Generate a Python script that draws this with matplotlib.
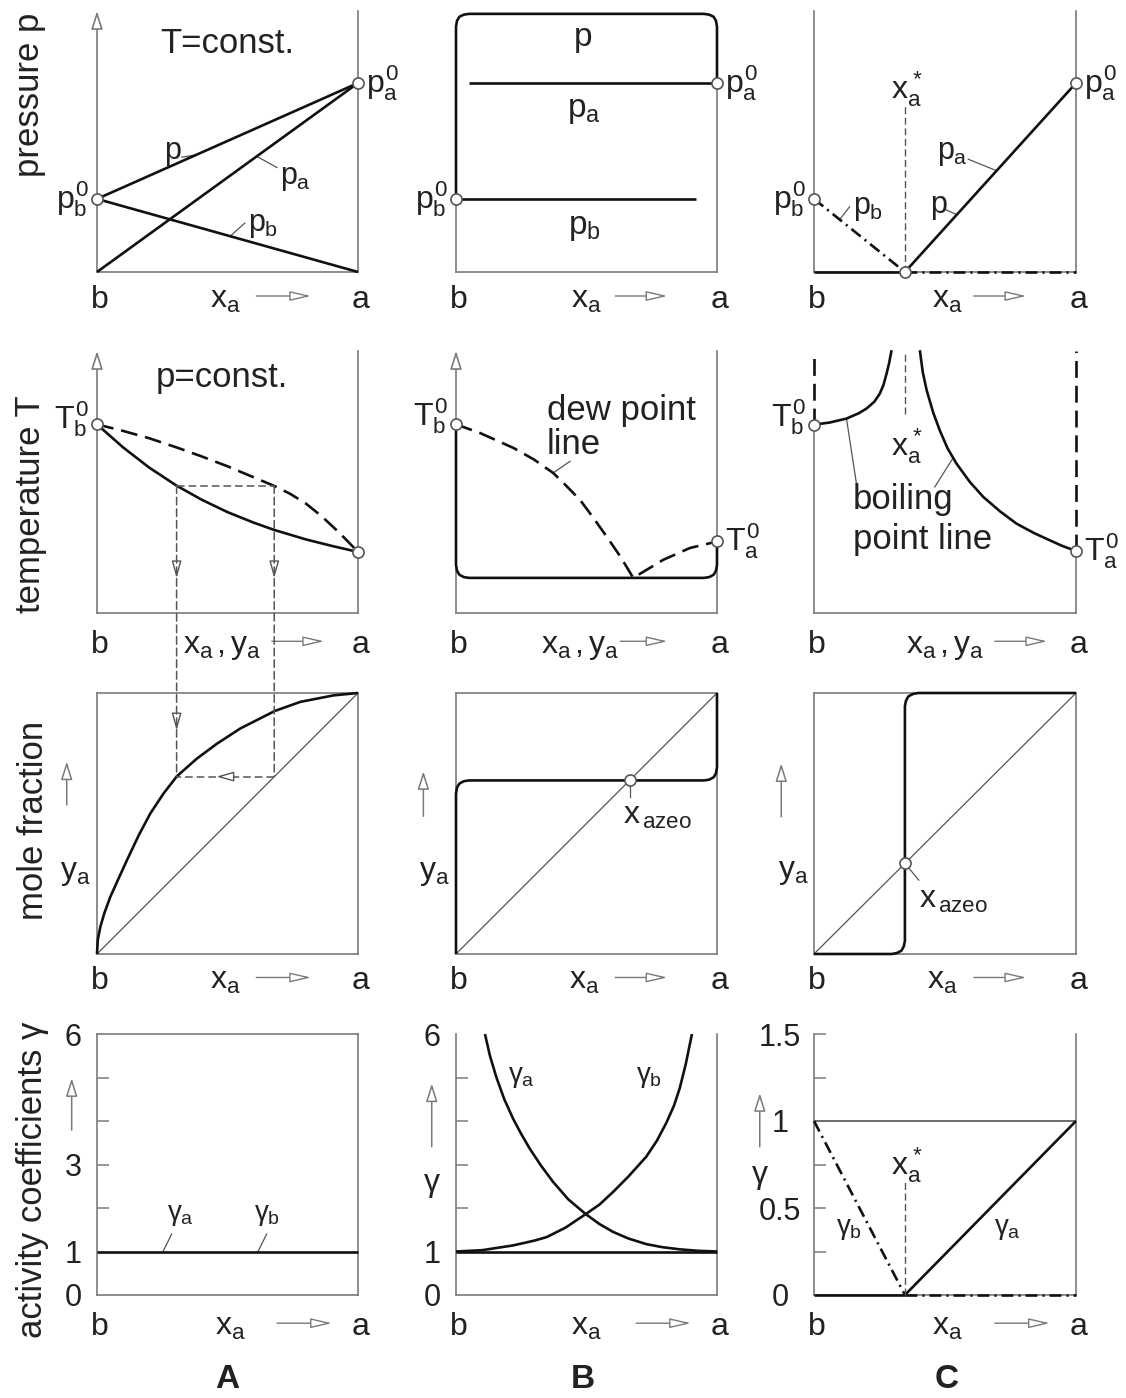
import numpy as np
import matplotlib
matplotlib.use("Agg")
import matplotlib.pyplot as plt
from matplotlib.patches import ConnectionPatch

plt.rcParams["font.family"] = ["Liberation Sans", "DejaVu Sans"]
plt.rcParams["mathtext.fontset"] = "custom"
plt.rcParams["mathtext.rm"] = "Liberation Sans"
plt.rcParams["mathtext.it"] = "Liberation Sans"
plt.rcParams["mathtext.bf"] = "Liberation Sans:bold"

# ---------------- data (x_a: b = 0 ... a = 1) ----------------
# column A: ideal mixture
pa0_ideal, pb0_ideal = 0.724, 0.28
Tb0_ideal, Ta0_ideal = 0.72, 0.233
boil_ideal_x = [0, 0.1, 0.2, 0.305, 0.4, 0.5, 0.6, 0.679, 0.8, 0.9, 1.0]
boil_ideal_y = [0.72, 0.632, 0.555, 0.486, 0.433, 0.385, 0.345, 0.317, 0.281, 0.256, 0.233]
dew_ideal_x = [0, 0.1, 0.2, 0.305, 0.4, 0.5, 0.6, 0.679, 0.74, 0.8, 0.86, 0.93, 1.0]
dew_ideal_y = [0.72, 0.695, 0.667, 0.632, 0.598, 0.56, 0.518, 0.485, 0.455, 0.418, 0.37,
               0.305, 0.233]
eq_ideal_x = [0, 0.003, 0.013, 0.028, 0.051, 0.083, 0.115, 0.16, 0.204, 0.255, 0.306,
              0.383, 0.46, 0.549, 0.681, 0.779, 0.907, 1.0]
eq_ideal_y = [0, 0.054, 0.105, 0.156, 0.219, 0.29, 0.36, 0.455, 0.538, 0.615, 0.681,
              0.749, 0.806, 0.864, 0.931, 0.966, 0.991, 1.0]
x_liquid, x_vapour = 0.305, 0.679
gamma_ideal = 1.0

# column B: positive deviation (maximum pressure azeotrope)
pa0_pos, pb0_pos = 0.724, 0.28
p_pos_x = [0, 0, 0.004, 0.013, 0.03, 0.05, 0.95, 0.97, 0.987, 0.996, 1, 1]
p_pos_y = [0.28, 0.94, 0.963, 0.978, 0.986, 0.989, 0.989, 0.986, 0.978, 0.963, 0.94, 0.724]
pa_pos_x = [0.05, 1.0]
pb_pos_x = [0.0, 0.92]
Tb0_pos, Ta0_pos = 0.72, 0.273
boil_pos_x = [0, 0, 0.004, 0.013, 0.03, 0.05, 0.95, 0.97, 0.987, 0.996, 1, 1]
boil_pos_y = [0.72, 0.184, 0.161, 0.146, 0.137, 0.134, 0.134, 0.137, 0.146, 0.161, 0.184, 0.273]
dew_pos_x = [0, 0.092, 0.22, 0.30, 0.373, 0.42, 0.475, 0.525, 0.577, 0.63, 0.679,
             0.794, 0.896, 1.0]
dew_pos_y = [0.72, 0.687, 0.63, 0.585, 0.534, 0.488, 0.432, 0.365, 0.292, 0.215, 0.134,
             0.203, 0.248, 0.273]
eq_pos_x = [0, 0, 0.004, 0.013, 0.03, 0.05, 0.95, 0.97, 0.987, 0.996, 1, 1]
eq_pos_y = [0, 0.615, 0.638, 0.653, 0.662, 0.665, 0.665, 0.668, 0.677, 0.692, 0.715, 1]
x_azeo_pos = 0.665
gam_a_pos_x = [0.111, 0.13, 0.155, 0.185, 0.219, 0.25, 0.283, 0.325, 0.372, 0.43, 0.497,
               0.55, 0.602, 0.66, 0.729, 0.79, 0.857, 0.93, 1.0]
gam_a_pos_y = [6.0, 5.5, 5.0, 4.5, 4.05, 3.7, 3.36, 2.98, 2.6, 2.2, 1.86,
               1.63, 1.45, 1.3, 1.17, 1.1, 1.05, 1.015, 1.0]
gam_b_pos_x = [0, 0.1, 0.219, 0.3, 0.347, 0.42, 0.497, 0.55, 0.602, 0.66, 0.729, 0.77,
               0.806, 0.835, 0.857, 0.88, 0.904]
gam_b_pos_y = [1.0, 1.03, 1.14, 1.25, 1.33, 1.55, 1.86, 2.08, 2.37, 2.72, 3.18, 3.55,
               3.96, 4.35, 4.75, 5.3, 6.0]

# column C: immiscible components (x_a* splits the range)
x_star = 0.347
pa0_neg, pb0_neg = 0.724, 0.28
Tb0_neg, Ta0_neg = 0.719, 0.237
boil_neg_l_x = [0, 0.06, 0.124, 0.17, 0.2, 0.23, 0.251, 0.265, 0.277, 0.287, 0.296]
boil_neg_l_y = [0.719, 0.727, 0.742, 0.762, 0.78, 0.806, 0.837, 0.87, 0.914, 0.955, 1.003]
boil_neg_r_x = [0.404, 0.415, 0.43, 0.455, 0.48, 0.51, 0.544, 0.595, 0.646, 0.71, 0.773,
                0.84, 0.901, 0.95, 1.0]
boil_neg_r_y = [1.003, 0.92, 0.85, 0.765, 0.697, 0.628, 0.570, 0.5, 0.443, 0.388, 0.341,
                0.305, 0.277, 0.255, 0.237]
eq_neg_x = [0, 0.297, 0.317, 0.334, 0.343, 0.347, 0.347, 0.351, 0.36, 0.377, 0.397, 1]
eq_neg_y = [0, 0, 0.004, 0.013, 0.03, 0.05, 0.95, 0.97, 0.987, 0.996, 1, 1]
gam_ref_neg = 1.0

# axis ticks of the activity coefficient row
gam_ticks_A, gam_minor_A = [0, 1, 3, 6], [2, 3, 4, 5]
gam_ticks_B, gam_minor_B = [0, 1, 6], [2, 3, 4, 5]
gam_ticks_C, gam_minor_C = [0, 0.5, 1, 1.5], [0.25, 0.5, 0.75, 1.25, 1.5]
gam_labels_C = ["0", "0.5", "1", "1.5"]

# ---------------- layout ----------------
W, H = 1126, 1398
COLS = [(97, 358), (456, 717), (814, 1076)]
ROWS = [(11, 272), (351, 613), (693, 954), (1034, 1295)]
BASE = [-0.137, -0.153, -0.135, -0.153]
GREY = "#7a7a7a"
LEAD = "#555555"
TXT = "#222222"
K = "#111111"
LW = 1.9
FS_AX = 23
THICK_DASH = (0, (6.4, 3.0))
THIN_DASH = (0, (5, 2.6))
DASH_DOT = (0, (4.5, 1.9, 0.8, 1.9))

fig = plt.figure(figsize=(W / 100, H / 100), dpi=100)


def panel(r, c, ylim=(0, 1), top=False):
    x0, x1 = COLS[c]
    y0, y1 = ROWS[r]
    ax = fig.add_axes([x0 / W, 1 - y1 / H, (x1 - x0) / W, (y1 - y0) / H])
    ax.set_xlim(0, 1)
    ax.set_ylim(*ylim)
    ax.set_xticks([])
    ax.set_yticks([])
    ax.patch.set_visible(False)
    for s in ax.spines.values():
        s.set_color(GREY)
        s.set_linewidth(1.2)
    ax.spines["top"].set_visible(top)
    return ax


def open_arrow(ax, start, end, coords="data", hl=1.3, hw=0.3, lw=1.0, ms=10, color=GREY):
    ax.annotate("", xy=end, xytext=start, xycoords=coords, textcoords=coords,
                annotation_clip=False,
                arrowprops=dict(arrowstyle=f"-|>,head_length={hl},head_width={hw}",
                                mutation_scale=ms, fc="white", ec=color, lw=lw,
                                shrinkA=0, shrinkB=0))


def yaxis_arrow(ax):
    ax.spines["left"].set_visible(False)
    open_arrow(ax, (0, 0), (0, 1.0), hl=1.1, hw=0.35, lw=1.2)


def xaxis_text(ax, r, label, lab_x, arr):
    yb = BASE[r]
    kw = dict(transform=ax.transAxes, va="baseline", fontsize=FS_AX, color=TXT)
    ax.text(0.012, yb, "b", ha="center", **kw)
    ax.text(1.01, yb, "a", ha="center", **kw)
    ax.text(lab_x, yb, label, ha="center", **kw)
    open_arrow(ax, (arr[0], yb + 0.045), (arr[1], yb + 0.045), "axes fraction")


def curve(ax, x, y, ls="-", lw=LW, color=K):
    ax.plot(x, y, color=color, lw=lw, ls=ls, clip_on=False, zorder=3,
            solid_capstyle="butt", dash_capstyle="butt", solid_joinstyle="round")


def dot(ax, x, y):
    ax.plot([x], [y], "o", ms=8, mfc="white", mec="#555555", mew=1.2,
            clip_on=False, zorder=6)


def leader(ax, cx, cy, at, end):
    ax.plot([at, end[0]], [np.interp(at, cx, cy), end[1]], color=LEAD, lw=0.9,
            clip_on=False, zorder=2)


def label(ax, x, y, s, fs=23, ha="center", va="center", coords=None):
    ax.text(x, y, s, fontsize=fs, ha=ha, va=va, color=TXT,
            transform=coords if coords is not None else ax.transData)


def small_up(ax, x, y0, y1):
    open_arrow(ax, (x, y0), (x, y1), "axes fraction", hl=1.1, hw=0.35, lw=1.1)


# ================= row 1: pressure =================
ax = panel(0, 0)
yaxis_arrow(ax)
curve(ax, [0, 1], [pb0_ideal, pa0_ideal])
curve(ax, [0, 1], [0, pa0_ideal])
curve(ax, [0, 1], [pb0_ideal, 0])
dot(ax, 0, pb0_ideal)
dot(ax, 1, pa0_ideal)
label(ax, 0.5, 0.877, "T=const.", fs=25)
label(ax, -0.03, pb0_ideal, r"$p_b^0$", ha="right")
label(ax, 1.03, pa0_ideal, r"$p_a^0$", ha="left")
leader(ax, [0, 1], [pb0_ideal, pa0_ideal], 0.38, (0.325, 0.44))
label(ax, 0.29, 0.465, "p", fs=22)
leader(ax, [0, 1], [0, pa0_ideal], 0.612, (0.69, 0.40))
label(ax, 0.76, 0.36, r"$p_a$", fs=22)
leader(ax, [0, 1], [pb0_ideal, 0], 0.51, (0.566, 0.187))
label(ax, 0.635, 0.18, r"$p_b$", fs=22)
xaxis_text(ax, 0, r"$x_a$", 0.49, (0.61, 0.82))
fig.text(30 / W, 1 - 95 / H, "pressure p", rotation=90, fontsize=25, color=TXT,
         ha="center", va="center")

ax = panel(0, 1)
ax.spines["left"].set_bounds(0, pb0_pos)
ax.spines["right"].set_bounds(0, pa0_pos)
curve(ax, p_pos_x, p_pos_y)
curve(ax, pa_pos_x, [pa0_pos, pa0_pos])
curve(ax, pb_pos_x, [pb0_pos, pb0_pos])
dot(ax, 0, pb0_pos)
dot(ax, 1, pa0_pos)
label(ax, 0.487, 0.9, "p", fs=24)
label(ax, 0.49, 0.62, r"$p_a$", fs=24)
label(ax, 0.49, 0.17, r"$p_b$", fs=24)
label(ax, -0.03, pb0_pos, r"$p_b^0$", ha="right")
label(ax, 1.03, pa0_pos, r"$p_a^0$", ha="left")
xaxis_text(ax, 0, r"$x_a$", 0.50, (0.61, 0.81))

ax = panel(0, 2)
curve(ax, [x_star, 1], [0, pa0_neg])
curve(ax, [0, x_star], [pb0_neg, 0], ls=DASH_DOT)
curve(ax, [0, x_star], [0, 0])
curve(ax, [x_star, 1], [0, 0], ls=DASH_DOT)
curve(ax, [x_star, x_star], [0, 0.646], ls=THIN_DASH, lw=1.0, color=LEAD)
dot(ax, 0, pb0_neg)
dot(ax, 1, pa0_neg)
dot(ax, x_star, 0)
label(ax, 0.355, 0.70, r"$x_a^*$")
label(ax, -0.03, pb0_neg, r"$p_b^0$", ha="right")
label(ax, 1.03, pa0_neg, r"$p_a^0$", ha="left")
leader(ax, [0, x_star], [pb0_neg, 0], 0.098, (0.136, 0.25))
label(ax, 0.15, 0.245, r"$p_b$", fs=22, ha="left")
leader(ax, [x_star, 1], [0, pa0_neg], 0.697, (0.589, 0.432))
label(ax, 0.53, 0.455, r"$p_a$", fs=22)
leader(ax, [x_star, 1], [0, pa0_neg], 0.545, (0.50, 0.24))
label(ax, 0.474, 0.255, "p", fs=22)
xaxis_text(ax, 0, r"$x_a$", 0.51, (0.61, 0.81))

# ================= row 2: temperature =================
axA2 = ax = panel(1, 0)
yaxis_arrow(ax)
curve(ax, boil_ideal_x, boil_ideal_y)
curve(ax, dew_ideal_x, dew_ideal_y, ls=THICK_DASH)
T_tie = np.interp(x_liquid, boil_ideal_x, boil_ideal_y)
curve(ax, [x_liquid, x_vapour], [T_tie, T_tie], ls=THIN_DASH, lw=1.1, color=LEAD)
for xv in (x_liquid, x_vapour):
    open_arrow(ax, (xv, 0.19), (xv, 0.133), hl=1.05, hw=0.3, lw=1.0, color=LEAD)
dot(ax, 0, Tb0_ideal)
dot(ax, 1, Ta0_ideal)
label(ax, 0.48, 0.9, "p=const.", fs=25)
label(ax, -0.03, Tb0_ideal + 0.02, r"$T_b^0$", ha="right")
xaxis_text(ax, 1, r"$x_a\,,y_a$", 0.48, (0.67, 0.87))
fig.text(31 / W, 1 - 504 / H, "temperature T", rotation=90, fontsize=25, color=TXT,
         ha="center", va="center")

ax = panel(1, 1)
yaxis_arrow(ax)
curve(ax, boil_pos_x, boil_pos_y)
curve(ax, dew_pos_x, dew_pos_y, ls=THICK_DASH)
dot(ax, 0, Tb0_pos)
dot(ax, 1, Ta0_pos)
label(ax, -0.03, Tb0_pos + 0.03, r"$T_b^0$", ha="right")
label(ax, 1.03, Ta0_pos, r"$T_a^0$", ha="left")
ax.text(0.347, 0.738, "dew point", fontsize=25, color=TXT, va="baseline")
ax.text(0.347, 0.608, "line", fontsize=25, color=TXT, va="baseline")
leader(ax, dew_pos_x, dew_pos_y, 0.372, (0.437, 0.579))
xaxis_text(ax, 1, r"$x_a\,,y_a$", 0.475, (0.63, 0.81))

ax = panel(1, 2)
ax.spines["left"].set_bounds(0, Tb0_neg)
ax.spines["right"].set_bounds(0, Ta0_neg)
curve(ax, [0, 0], [Tb0_neg, 1.0], ls=THICK_DASH)
curve(ax, [1, 1], [Ta0_neg, 1.0], ls=THICK_DASH)
curve(ax, boil_neg_l_x, boil_neg_l_y)
curve(ax, boil_neg_r_x, boil_neg_r_y)
curve(ax, [x_star, x_star], [0.761, 1.0], ls=THIN_DASH, lw=1.0, color=LEAD)
dot(ax, 0, Tb0_neg)
dot(ax, 1, Ta0_neg)
label(ax, 0.355, 0.636, r"$x_a^*$")
label(ax, -0.03, Tb0_neg + 0.03, r"$T_b^0$", ha="right")
label(ax, 1.03, Ta0_neg, r"$T_a^0$", ha="left")
ax.text(0.147, 0.397, "boiling", fontsize=25, color=TXT, va="baseline")
ax.text(0.147, 0.246, "point line", fontsize=25, color=TXT, va="baseline")
leader(ax, boil_neg_l_x, boil_neg_l_y, 0.124, (0.162, 0.494))
leader(ax, boil_neg_r_x, boil_neg_r_y, 0.531, (0.461, 0.481))
xaxis_text(ax, 1, r"$x_a\,,y_a$", 0.50, (0.69, 0.89))

# ================= row 3: y-x diagram =================
axA3 = ax = panel(2, 0, top=True)
ax.plot([0, 1], [0, 1], color="#555555", lw=0.9, zorder=2)
curve(ax, eq_ideal_x, eq_ideal_y)
y_tie = np.interp(x_liquid, eq_ideal_x, eq_ideal_y)
curve(ax, [x_vapour, x_liquid], [y_tie, y_tie], ls=THIN_DASH, lw=1.1, color=LEAD)
open_arrow(ax, (0.52, y_tie), (0.458, y_tie), hl=1.05, hw=0.3, lw=1.0, color=LEAD)
open_arrow(ax, (x_liquid, 0.922), (x_liquid, 0.857), hl=1.05, hw=0.3, lw=1.0, color=LEAD)
label(ax, -0.084, 0.31, r"$y_a$", coords=ax.transAxes)
small_up(ax, -0.116, 0.571, 0.737)
xaxis_text(ax, 2, r"$x_a$", 0.49, (0.61, 0.82))
fig.text(34 / W, 1 - 820 / H, "mole fraction", rotation=90, fontsize=25, color=TXT,
         ha="center", va="center")
for xv, yv in ((x_liquid, y_tie), (x_vapour, x_vapour)):
    con = ConnectionPatch(xyA=(xv, T_tie), coordsA="data", axesA=axA2,
                          xyB=(xv, yv), coordsB="data", axesB=axA3,
                          color=LEAD, lw=1.1, linestyle=THIN_DASH, zorder=1)
    fig.add_artist(con)

ax = panel(2, 1, top=True)
ax.plot([0, 1], [0, 1], color="#555555", lw=0.9, zorder=2)
curve(ax, eq_pos_x, eq_pos_y)
dot(ax, x_azeo_pos, x_azeo_pos)
ax.plot([x_azeo_pos, x_azeo_pos], [x_azeo_pos - 0.02, 0.6], color=LEAD, lw=0.9)
label(ax, 0.64, 0.53, r"$x_{\,azeo}$", ha="left")
label(ax, -0.084, 0.31, r"$y_a$", coords=ax.transAxes)
small_up(ax, -0.125, 0.528, 0.70)
xaxis_text(ax, 2, r"$x_a$", 0.49, (0.61, 0.81))

ax = panel(2, 2, top=True)
ax.plot([0, 1], [0, 1], color="#555555", lw=0.9, zorder=2)
curve(ax, eq_neg_x, eq_neg_y)
dot(ax, x_star, x_star)
ax.plot([x_star + 0.012, 0.40], [x_star - 0.014, 0.283], color=LEAD, lw=0.9)
label(ax, 0.40, 0.205, r"$x_{\,azeo}$", ha="left")
label(ax, -0.08, 0.315, r"$y_a$", coords=ax.transAxes)
small_up(ax, -0.125, 0.526, 0.73)
xaxis_text(ax, 2, r"$x_a$", 0.49, (0.61, 0.81))


# ================= row 4: activity coefficients =================
def gamma_axis(ax, ticks, minor, labels, pad):
    ax.set_yticks(ticks, labels)
    ax.set_yticks(minor, minor=True)
    ax.yaxis.remove_overlapping_locs = False
    ax.tick_params(axis="y", which="major", length=0, pad=pad, labelsize=22,
                   labelcolor=TXT)
    ax.tick_params(axis="y", which="minor", direction="in", length=8.6, width=1.1,
                   color=GREY)
    for t in ax.get_yticklabels():
        t.set_horizontalalignment("center")


ax = panel(3, 0, ylim=(0, 6), top=True)
gamma_axis(ax, gam_ticks_A, gam_minor_A, [str(v) for v in gam_ticks_A], 17)
curve(ax, [0, 1], [gamma_ideal, gamma_ideal])
ax.plot([0.253, 0.286], [gamma_ideal, 1.4], color=LEAD, lw=0.9)
ax.plot([0.617, 0.65], [gamma_ideal, 1.4], color=LEAD, lw=0.9)
label(ax, 0.32, 1.85, r"$\gamma_a$", fs=20)
label(ax, 0.65, 1.85, r"$\gamma_b$", fs=20)
small_up(ax, -0.097, 0.632, 0.83)
xaxis_text(ax, 3, r"$x_a$", 0.51, (0.69, 0.90))
fig.text(33 / W, 1 - 1180 / H, "activity coefficients γ", rotation=90, fontsize=25,
         color=TXT, ha="center", va="center")

ax = panel(3, 1, ylim=(0, 6))
gamma_axis(ax, gam_ticks_B, gam_minor_B, [str(v) for v in gam_ticks_B], 17)
curve(ax, [0, 1], [1, 1])
curve(ax, gam_a_pos_x, gam_a_pos_y)
curve(ax, gam_b_pos_x, gam_b_pos_y)
label(ax, 0.25, 5.0, r"$\gamma_a$", fs=20)
label(ax, 0.74, 5.0, r"$\gamma_b$", fs=20)
label(ax, -0.093, 0.42, r"$\gamma$", coords=ax.transAxes)
small_up(ax, -0.093, 0.568, 0.81)
xaxis_text(ax, 3, r"$x_a$", 0.50, (0.69, 0.90))

ax = panel(3, 2, ylim=(0, 1.5))
gamma_axis(ax, gam_ticks_C, gam_minor_C, gam_labels_C, 24.5)
ax.plot([0, 1], [gam_ref_neg, gam_ref_neg], color="#444444", lw=1.1, zorder=2)
curve(ax, [x_star, 1], [0, gam_ref_neg])
curve(ax, [0, x_star], [0, 0])
curve(ax, [0, x_star], [gam_ref_neg, 0], ls=DASH_DOT)
curve(ax, [x_star, 1], [0, 0], ls=DASH_DOT)
curve(ax, [x_star, x_star], [0, 0.654], ls=THIN_DASH, lw=1.0, color=LEAD)
label(ax, 0.355, 0.747, r"$x_a^*$")
label(ax, 0.135, 0.38, r"$\gamma_b$", fs=20)
label(ax, 0.74, 0.38, r"$\gamma_a$", fs=20)
label(ax, -0.207, 0.453, r"$\gamma$", coords=ax.transAxes)
small_up(ax, -0.207, 0.568, 0.773)
xaxis_text(ax, 3, r"$x_a$", 0.51, (0.69, 0.90))

for name, xc in (("A", 227), ("B", 583), ("C", 947)):
    fig.text(xc / W, 1 - 1380 / H, name, fontsize=24, fontweight="bold", color=TXT,
             ha="center", va="center")

fig.savefig("out.png", dpi=100)
